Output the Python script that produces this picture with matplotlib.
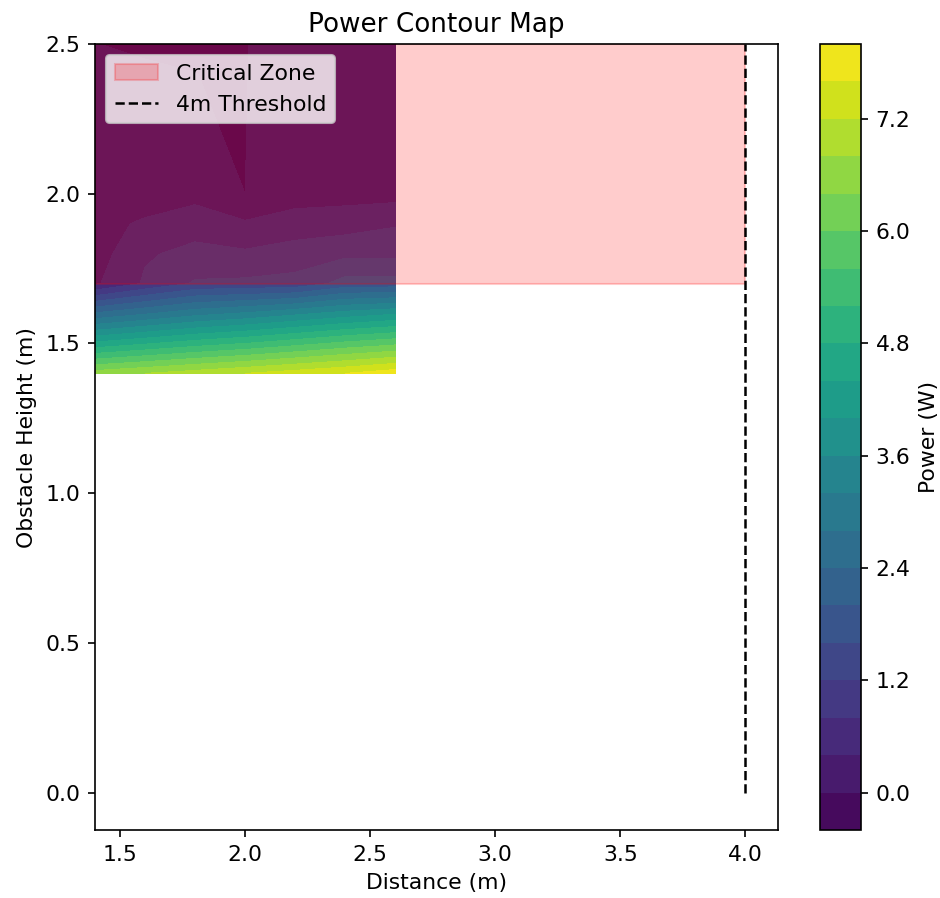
import numpy as np
import matplotlib
matplotlib.use("Agg")
import matplotlib.pyplot as plt

plt.rcParams["font.size"] = 10.5

# grid of the measurements
distances = [1.4, 1.6, 1.8, 2.0, 2.2, 2.4, 2.6]
heights = [1.4, 1.5, 1.6, 1.7, 1.8, 1.9, 2.0, 2.1, 2.2, 2.3, 2.4, 2.5]

# power (W), one row per height, one column per distance
power_14 = [6.60, 6.80, 7.00, 7.20, 7.40, 7.60, 7.85]
power_15 = [4.50, 4.75, 5.00, 5.20, 5.45, 5.70, 5.90]
power_16 = [2.45, 2.75, 3.05, 3.25, 3.50, 3.75, 3.95]
power_17 = [0.34, 0.85, 1.25, 1.28, 1.32, 1.75, 1.75]
power_18 = [0.20, 0.76, 0.89, 0.86, 1.00, 1.10, 1.10]
power_19 = [0.28, 0.45, 0.66, 0.45, 0.55, 0.62, 0.76]
power_20 = [0.22, 0.20, 0.25, 0.00, 0.25, 0.25, 0.25]
power_21 = [0.20, 0.15, 0.013, -0.004, 0.25, 0.25, 0.25]
power_22 = [0.18, 0.10, 0.009, -0.008, 0.25, 0.25, 0.25]
power_23 = [0.15, 0.06, 0.005, -0.012, 0.25, 0.25, 0.25]
power_24 = [0.10, 0.02, 0.001, -0.016, 0.25, 0.25, 0.25]
power_25 = [0.002, -0.02, -0.02, -0.02, 0.25, 0.25, 0.25]

critical_height = 1.7
threshold_dist = 4.0

power = np.array([power_14, power_15, power_16, power_17, power_18, power_19,
                  power_20, power_21, power_22, power_23, power_24, power_25])
X, Y = np.meshgrid(distances, heights)

fig = plt.figure(figsize=(940 / 150, 898 / 150), dpi=150)
ax = fig.add_axes([95 / 940, 68 / 898, 683 / 940, 786 / 898])
cax = fig.add_axes([820 / 940, 68 / 898, 41 / 940, 786 / 898])

levels = np.linspace(-0.4, 8.0, 22)
cs = ax.contourf(X, Y, power, levels=levels, cmap="viridis")

ax.fill_between([distances[0], threshold_dist], critical_height, heights[-1],
                color="red", alpha=0.2, label="Critical Zone")
ax.plot([threshold_dist, threshold_dist], [0, heights[-1]], "k--", lw=1.2,
        label="4m Threshold")

cb = fig.colorbar(cs, cax=cax)
cb.set_label("Power (W)")

ax.set_xlabel("Distance (m)")
ax.set_ylabel("Obstacle Height (m)")
ax.set_title("Power Contour Map")
ax.legend(loc="upper left")

fig.savefig("out.png", dpi=150)
